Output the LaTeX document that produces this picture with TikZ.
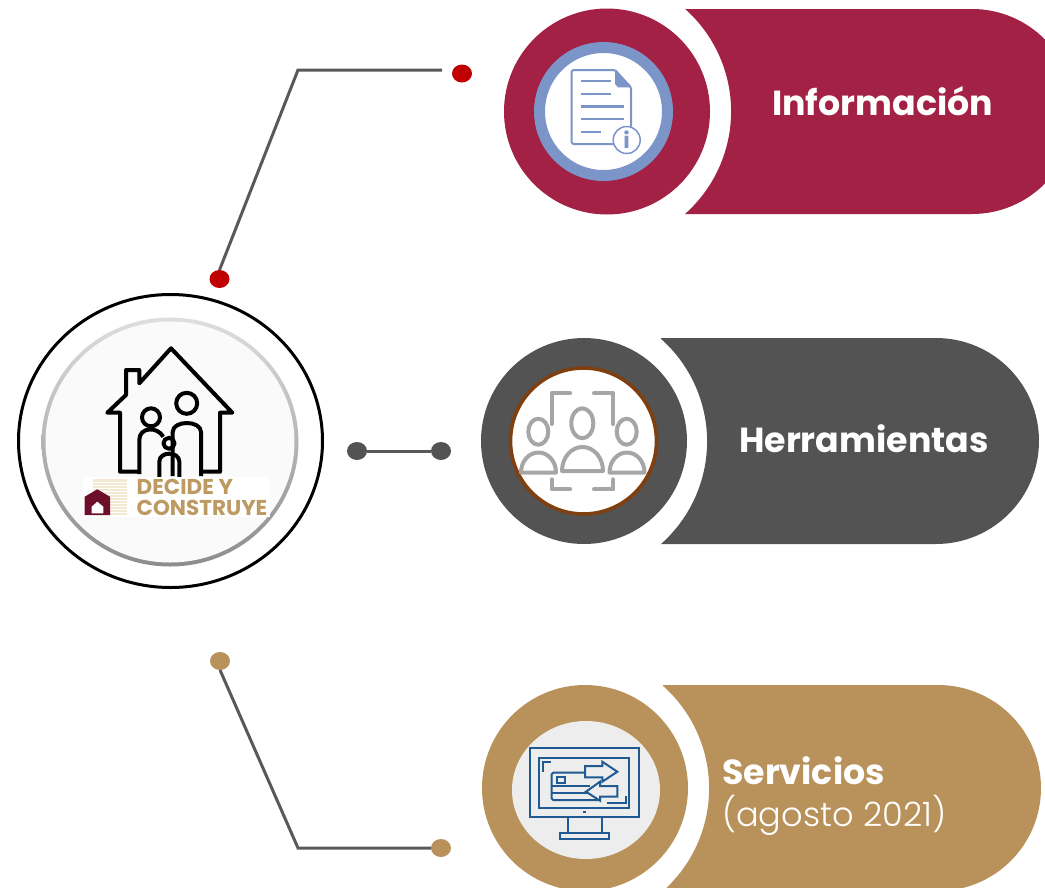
\documentclass[tikz,border=0pt]{standalone}
\usepackage{fontspec}
\setmainfont{Poppins}
\newfontfamily\lightfont{Poppins}[UprightFont=* Light]
\usetikzlibrary{shapes.geometric,shadings,arrows.meta,positioning,calc}
\definecolor{infored}{HTML}{A32145}
\definecolor{toolgrey}{HTML}{535353}
\definecolor{servtan}{HTML}{B8925A}
\definecolor{dotred}{HTML}{C00000}
\definecolor{linegrey}{HTML}{595959}
\definecolor{docblue}{HTML}{7B95C8}
\definecolor{ringbrown}{HTML}{7F3F0F}
\definecolor{peoplegrey}{HTML}{A6A6A6}
\definecolor{screenblue}{HTML}{1F5A92}
\definecolor{logotan}{HTML}{BC9A62}
\definecolor{logomaroon}{HTML}{6B0F2B}
\definecolor{stripecream}{HTML}{F3E9D2}
\tikzset{
  disc/.style={ellipse,inner sep=0pt,outer sep=0pt,minimum width=#1,minimum height=#1},
  dotmark/.style={ellipse,inner sep=0pt,outer sep=0pt,minimum width=20pt,minimum height=18pt,fill=#1},
  link/.style={draw=linegrey,line width=3pt},
  barlabel/.style={anchor=west,inner sep=0pt,text=white,font=\bfseries\fontsize{34.8}{38}\selectfont},
  logotext/.style={anchor=west,inner sep=0pt,text=logotan,font=\bfseries\fontsize{21.5}{23}\selectfont},
  houseline/.style={draw=black,line width=4pt,line join=round},
  docline/.style={draw=docblue,line width=2pt},
  peopleline/.style={draw=peoplegrey,line width=4pt,line cap=round,line join=round},
  screenline/.style={draw=screenblue,line width=2pt}
}
\begin{document}
\begin{tikzpicture}[x=1pt,y=-1pt]
    \useasboundingbox (0,0) rectangle (1045,887);
    \clip (0,0) rectangle (1045,887);

    % Bars
    \fill[infored] (685,9) -- (972,9) arc[start angle=-90,end angle=90,radius=102.5] -- (685,214) arc[start angle=48.4,end angle=-48.4,radius=137.2] -- cycle;
    \fill[toolgrey] (661,338) -- (936,338) arc[start angle=-90,end angle=90,radius=103] -- (661,544) arc[start angle=48.4,end angle=-48.4,radius=137.2] -- cycle;
    \fill[servtan] (663,685) -- (938,685) arc[start angle=-90,end angle=90,radius=103] -- (663,891) arc[start angle=48.4,end angle=-48.4,radius=137.2] -- cycle;

    % Discs
    \node[disc=206pt,fill=infored] (infodisc) at (607,111.5) {};
    \node[disc=206pt,fill=toolgrey] (tooldisc) at (584,441) {};
    \node[disc=206pt,fill=servtan] (servdisc) at (585,788) {};
    \node[disc=128pt,draw=docblue,line width=11pt,fill=white] (inforing) at (603.5,111.5) {};
    \node[disc=146pt,draw=ringbrown,line width=3.6pt,fill=white] (toolring) at (583.5,441) {};
    \node[ellipse,inner sep=0pt,minimum width=148pt,minimum height=138pt,fill=black!7] (servring) at (586,790) {};

    % Labels
    \node[barlabel] (infolabel) at (772,101.5) {Información};
    \node[barlabel] (toollabel) at (739,438.5) {Herramientas};
    \node[barlabel] (servlabel) at (722,771) {Servicios};
    \node[barlabel,font=\lightfont\fontsize{33.6}{38}\selectfont] (datelabel) at (722,815) {(agosto 2021)};

    % Hub
    \node[ellipse,inner sep=0pt,minimum width=304pt,minimum height=293pt,draw=black,line width=3pt] (hub) at (170.5,441) {};
    \shade[shading=axis,shading angle=135,top color=black!13,bottom color=black!45] (170,442) ellipse[x radius=128.5,y radius=124.5];
    \fill[black!2] (170,442) ellipse[x radius=124.5,y radius=120.5];

    % House and family
    \draw[houseline] (138.3,471.7) -- (120,471.7) -- (120,412.7) -- (107.3,412.7) -- (126,395) -- (126,370) -- (139.3,370) -- (139.3,383.3) -- (171,348.3) -- (232.3,412.7) -- (220,412.7) -- (220,471.7) -- (201.7,471.7);
    \draw[houseline] (186.7,403.3) circle[radius=10.5];
    \draw[houseline] (172.7,476) -- (172.7,432) .. controls (172.7,420) and (201,420) .. (201,432) -- (201,476);
    \draw[houseline] (151,417.3) circle[radius=9];
    \draw[houseline] (139.3,474) -- (139.3,440) .. controls (139.3,427) and (157,426) .. (163.3,436.7);
    \draw[houseline] (169,443.3) circle[radius=5.5];
    \draw[houseline] (159.3,477) -- (159.3,461.7) .. controls (159.3,451) and (179.3,451) .. (179.3,461.7) -- (179.3,477);

    % Logo strip
    \fill[white] (83.3,476.7) rectangle (270,516.7);
    \fill[stripecream] (92.7,479.3) rectangle (127.3,515);
    \foreach \stripey in {482,485,...,515} {
        \draw[white,line width=0.7pt] (92.7,\stripey) -- (127.3,\stripey);
    }
    \fill[logomaroon] (84.7,515) -- (84.7,496.7) -- (97.3,489.3) -- (110,496.7) -- (110,515) -- cycle;
    \fill[white] (91.7,513.3) -- (91.7,506.7) -- (97.3,501.7) -- (103.3,506.7) -- (103.3,513.3) -- cycle;
    \node[logotext] (logotop) at (136.5,487.3) {DECIDE Y};
    \node[logotext] (logobottom) at (136.5,507.7) {CONSTRUYE};

    % Document icon
    \draw[docline,rounded corners=1.5pt] (613.3,144) -- (571.7,144) -- (571.7,70) -- (615,70) -- (631,87.3) -- (631,126.7);
    \fill[docblue] (615,71) -- (631,87.3) -- (618,87.3) -- (615,84) -- cycle;
    \foreach \liney/\lineend in {81/610.7,93.7/610.7,106.3/624.3,118.7/624.3,131.7/601} {
        \draw[docline,line width=2.4pt] (580.7,\liney) -- (\lineend,\liney);
    }
    \node[circle,draw=docblue,line width=1.5pt,fill=white,minimum size=27pt,inner sep=0pt,text=docblue,font=\rmfamily\bfseries\fontsize{22}{23}\selectfont] (infomark) at (626.7,140) {i};

    % People icon
    \draw[peopleline] (582.3,423.3) ellipse[x radius=11,y radius=15];
    \draw[peopleline] (538.3,431.7) ellipse[x radius=10,y radius=13];
    \draw[peopleline] (626.7,431.7) ellipse[x radius=10,y radius=13];
    \draw[peopleline] (562,471) arc[start angle=180,end angle=360,x radius=20.5,y radius=24] -- cycle;
    \draw[peopleline] (521,472.5) arc[start angle=180,end angle=360,x radius=17.5,y radius=20] -- cycle;
    \draw[peopleline] (609.5,472.5) arc[start angle=180,end angle=360,x radius=17.5,y radius=20] -- cycle;
    \draw[peopleline] (551.7,424) -- (551.7,393.3) -- (570,393.3);
    \draw[peopleline] (594,393.3) -- (613.3,393.3) -- (613.3,424);
    \draw[peopleline] (551.7,479.3) -- (551.7,489.3) -- (570,489.3);
    \draw[peopleline] (594,489.3) -- (613.3,489.3) -- (613.3,479.3);

    % Monitor icon
    \draw[screenline] (530,748.3) rectangle (639,816.7);
    \draw[screenline] (539.3,757.7) rectangle (629.3,807.7);
    \draw[screenline] (568.3,816.7) -- (568.3,832.7);
    \draw[screenline] (601.7,816.7) -- (601.7,832.7);
    \draw[screenline] (560,832.7) rectangle (609,839.3);
    \fill[screenblue] (582.8,811) rectangle (585.8,813);
    \draw[screenline] (543.3,771.7) -- (543.3,761.7) -- (551,761.7);
    \draw[screenline] (606.7,803.3) -- (625.7,803.3) -- (625.7,795.7);
    \draw[screenline,rounded corners=1.5pt] (585,772.7) -- (551.7,772.7) -- (551.7,800) -- (598.3,800);
    \draw[screenline] (551.7,786) -- (590,786);
    \draw[screenline] (551.7,793.3) -- (588,793.3);
    \draw[screenline] (557.3,777.3) rectangle (564.7,783.3);
    \draw[screenline,fill=black!7] (585,766) -- (602.3,766) -- (602.3,761.7) -- (617.3,771.7) -- (602.3,781.7) -- (602.3,777.3) -- (585,777.3) -- cycle;
    \draw[screenline,fill=black!7] (617.3,786) -- (600,786) -- (600,781.7) -- (586,791.7) -- (600,800.7) -- (600,796.7) -- (617.3,796.7) -- cycle;

    % Dots and connectors
    \node[dotmark=dotred] (dottop) at (219.5,279) {};
    \node[dotmark=dotred] (dotinfo) at (462,73.5) {};
    \node[dotmark=toolgrey] (dotleft) at (357,451) {};
    \node[dotmark=toolgrey] (dottool) at (441,451) {};
    \node[dotmark=servtan] (dotlow) at (220,661) {};
    \node[dotmark=servtan] (dotserv) at (441,848) {};
    \coordinate (topend) at (442,70);
    \coordinate (topbend) at (298,70);
    \coordinate (lowbend) at (298,848);

    \draw[link] (dottop.north) -- (topbend) -- (topend);
    \draw[link] (dotleft) -- (dottool);
    \draw[link] (dotlow.south) -- (lowbend) -- (dotserv);
\end{tikzpicture}
\end{document}
